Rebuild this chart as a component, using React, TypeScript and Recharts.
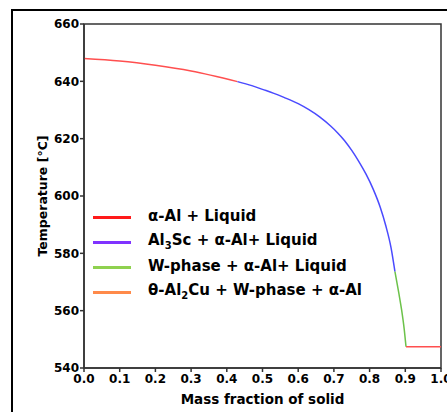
import React from "react";
import {
  LineChart,
  Line,
  XAxis,
  YAxis,
  ReferenceArea,
} from "recharts";

// mass fraction of solid (f) vs temperature (t)
const alphaLiquid = [
  { f: 0.0, t: 648.0 },
  { f: 0.1, t: 647.1 },
  { f: 0.2, t: 645.6 },
  { f: 0.3, t: 643.6 },
  { f: 0.43, t: 639.9 },
];

const al3scLiquid = [
  { f: 0.43, t: 639.9 },
  { f: 0.47, t: 638.5 },
  { f: 0.5, t: 637.2 },
  { f: 0.53, t: 635.9 },
  { f: 0.56, t: 634.4 },
  { f: 0.6, t: 632.2 },
  { f: 0.63, t: 630.1 },
  { f: 0.66, t: 627.6 },
  { f: 0.69, t: 624.5 },
  { f: 0.71, t: 622.1 },
  { f: 0.73, t: 619.3 },
  { f: 0.75, t: 615.9 },
  { f: 0.77, t: 612.0 },
  { f: 0.79, t: 607.6 },
  { f: 0.81, t: 602.4 },
  { f: 0.83, t: 596.0 },
  { f: 0.845, t: 589.8 },
  { f: 0.86, t: 582.0 },
  { f: 0.871, t: 573.6 },
];

const wPhaseLiquid = [
  { f: 0.871, t: 573.6 },
  { f: 0.882, t: 566.0 },
  { f: 0.89, t: 560.0 },
  { f: 0.897, t: 553.5 },
  { f: 0.902, t: 547.4 },
];

const eutectic = [
  { f: 0.902, t: 547.4 },
  { f: 1.0, t: 547.4 },
];

const xTicks = [0, 0.1, 0.2, 0.3, 0.4, 0.5, 0.6, 0.7, 0.8, 0.9, 1.0];
const yTicks = [540, 560, 580, 600, 620, 640, 660];

// legend labels: odd parts are subscripts
const legendLabels = [
  ["α-Al + Liquid"],
  ["Al", "3", "Sc + α-Al+ Liquid"],
  ["W-phase + α-Al+ Liquid"],
  ["θ-Al", "2", "Cu + W-phase + α-Al"],
];
const legendColors = ["#ff1a1a", "#8033ff", "#8fd14f", "#ff8a4a"];

const FONT = "'DejaVu Sans', sans-serif";

const YTitle = (props: any) => {
  const { x, y, height } = props.viewBox;
  const cx = x + 42;
  const cy = y + height / 2;
  return (
    <text
      x={cx}
      y={cy}
      transform={`rotate(-90 ${cx} ${cy})`}
      textAnchor="middle"
      dominantBaseline="central"
      fontFamily={FONT}
      fontWeight="bold"
      fontSize={12.5}
      fill="#000"
    >
      Temperature [°C]
    </text>
  );
};

export default function App() {
  const tickStyle = {
    fontFamily: FONT,
    fontWeight: "bold",
    fontSize: 12,
    fill: "#000",
  };
  return (
    <div
      style={{
        position: "fixed",
        left: 0,
        top: 0,
        width: 447,
        height: 412,
        overflow: "hidden",
        background: "#fff",
      }}
    >
      <div
        style={{
          position: "absolute",
          left: 11,
          top: 9,
          width: 520,
          height: 520,
          border: "2px solid #000",
        }}
      />
      <div style={{ position: "absolute", left: 0, top: 0 }}>
        <LineChart
          width={481}
          height={412}
          margin={{ top: 24, right: 40, left: 0, bottom: 0 }}
        >
          <XAxis
            dataKey="f"
            type="number"
            domain={[0, 1]}
            ticks={xTicks}
            tickFormatter={(v: number) => v.toFixed(1)}
            height={44}
            tickSize={4}
            tickMargin={2}
            interval={0}
            allowDataOverflow
            stroke="#333"
            strokeWidth={1.5}
            tick={tickStyle}
            label={{
              value: "Mass fraction of solid",
              position: "insideBottom",
              offset: 8,
              style: {
                fontFamily: FONT,
                fontWeight: "bold",
                fontSize: 13.5,
                fill: "#000",
              },
            }}
          />
          <YAxis
            type="number"
            domain={[540, 660]}
            ticks={yTicks}
            width={84}
            tickSize={4}
            tickMargin={1}
            interval={0}
            stroke="#333"
            strokeWidth={1.5}
            tick={tickStyle}
            label={<YTitle />}
          />
          <ReferenceArea
            x1={0}
            x2={1}
            y1={540}
            y2={660}
            fill="none"
            stroke="#333"
            strokeWidth={1.5}
          />
          <Line
            data={alphaLiquid}
            dataKey="t"
            type="monotone"
            stroke="#ff4f4f"
            strokeWidth={1.5}
            dot={false}
            isAnimationActive={false}
          />
          <Line
            data={al3scLiquid}
            dataKey="t"
            type="monotone"
            stroke="#4a4aff"
            strokeWidth={1.5}
            dot={false}
            isAnimationActive={false}
          />
          <Line
            data={wPhaseLiquid}
            dataKey="t"
            type="monotone"
            stroke="#6cc24a"
            strokeWidth={1.5}
            dot={false}
            isAnimationActive={false}
          />
          <Line
            data={eutectic}
            dataKey="t"
            type="linear"
            stroke="#ff4f4f"
            strokeWidth={1.5}
            dot={false}
            isAnimationActive={false}
          />
        </LineChart>
      </div>
      <div
        style={{
          position: "absolute",
          left: 93,
          top: 203,
          fontFamily: FONT,
          fontWeight: "bold",
          fontSize: 15,
          color: "#000",
        }}
      >
        {legendLabels.map((parts, i) => (
          <div
            key={i}
            style={{ display: "flex", alignItems: "center", height: 25 }}
          >
            <div
              style={{
                width: 38,
                height: 3,
                background: legendColors[i],
                marginRight: 17,
                marginTop: 4,
              }}
            />
            <span style={{ whiteSpace: "nowrap" }}>
              {parts.map((p, j) =>
                j % 2 === 1 ? (
                  <sub key={j} style={{ fontSize: 10 }}>
                    {p}
                  </sub>
                ) : (
                  <React.Fragment key={j}>{p}</React.Fragment>
                )
              )}
            </span>
          </div>
        ))}
      </div>
    </div>
  );
}
